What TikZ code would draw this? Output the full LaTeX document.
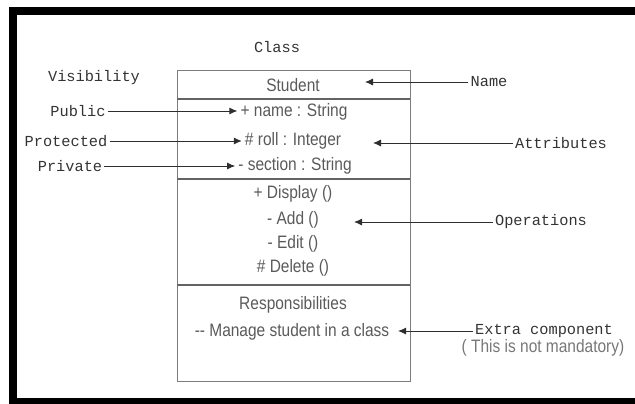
\documentclass[tikz,border=0pt]{standalone}
\usepackage{fontspec}
\setmainfont[FakeStretch=0.86]{Liberation Sans}
\newfontfamily\tagfont{Liberation Mono}
\usetikzlibrary{arrows.meta,positioning}

\definecolor{tagcol}{HTML}{333333}
\definecolor{membercol}{HTML}{5A5A5A}
\definecolor{notecol}{HTML}{777777}
\definecolor{boxcol}{HTML}{7C7C7C}
\definecolor{arrowcol}{HTML}{2E2E2E}

\begin{document}
\begin{tikzpicture}[
    x=1pt, y=-1pt,
    tag/.style = {font={\tagfont\fontsize{15.3}{16}\selectfont}, text=tagcol, inner sep=2pt},
    member/.style = {font={\fontsize{18}{20}\selectfont}, text=membercol, inner sep=3pt},
    pointer/.style = {-{Latex[length=8pt,width=7pt]}, line width=0.9pt, draw=arrowcol},
    divider/.style = {line width=1.8pt, draw=boxcol!80!black}
]
    \useasboundingbox (0,0) rectangle (635,404);

    % black frame (left, top, bottom)
    \fill[black] (9,7) rectangle (17,404);
    \fill[black] (9,7) rectangle (635,15);
    \fill[black] (9,398) rectangle (635,404);

    % class box and its compartments
    \draw[boxcol, line width=1pt] (177,71) rectangle (410,381);
    \draw[divider] (177,99) -- (410,99);
    \draw[divider] (177,179) -- (410,179);
    \draw[divider] (177,285) -- (410,285);

    \node[tag] (class) at (277,47) {Class};
    \node[tag] (visibility) at (94,78) {Visibility};
    \node[tag] (public) at (78,111) {Public};
    \node[tag] (protected) at (66,141) {Protected};
    \node[tag] (private) at (70,166) {Private};

    \node[member] (student) at (293,85) {Student};
    \node[member] (attr1) at (294,112) {+ name : String};
    \node[member] (attr2) at (293,141) {\# roll : Integer};
    \node[member] (attr3) at (295,166) {- section : String};
    \node[member] (op1) at (293,194) {+ Display ()};
    \node[member] (op2) at (293,220) {- Add ()};
    \node[member] (op3) at (293,244) {- Edit ()};
    \node[member] (op4) at (293,268) {\# Delete ()};
    \node[member] (resp) at (293,305) {Responsibilities};
    \node[member] (duty) at (292,332) {-{}- Manage student in a class};

    \node[tag] (name) at (489,82) {Name};
    \node[tag] (attributes) at (561,143) {Attributes};
    \node[tag] (operations) at (541,222) {Operations};
    \node[tag] (extra) at (544,331) {Extra component};
    \node[member, text=notecol] (note) at (543,348) {( This is not mandatory)};

    % visibility markers point at the attributes
    \draw[pointer] (public.east) -- (public.east -| attr1.west);
    \draw[pointer] (protected.east) -- (protected.east -| attr2.west);
    \draw[pointer] (private.east) -- (private.east -| attr3.west);

    % parts of the class
    \coordinate (nametip) at (365,82);
    \coordinate (attrtip) at (373,143);
    \coordinate (optip) at (354,222);
    \coordinate (extratip) at (398,331);
    \draw[pointer] (name.west) -- (nametip);
    \draw[pointer] (attributes.west) -- (attrtip);
    \draw[pointer] (operations.west) -- (optip);
    \draw[pointer] (extra.west) -- (extratip);
\end{tikzpicture}
\end{document}
